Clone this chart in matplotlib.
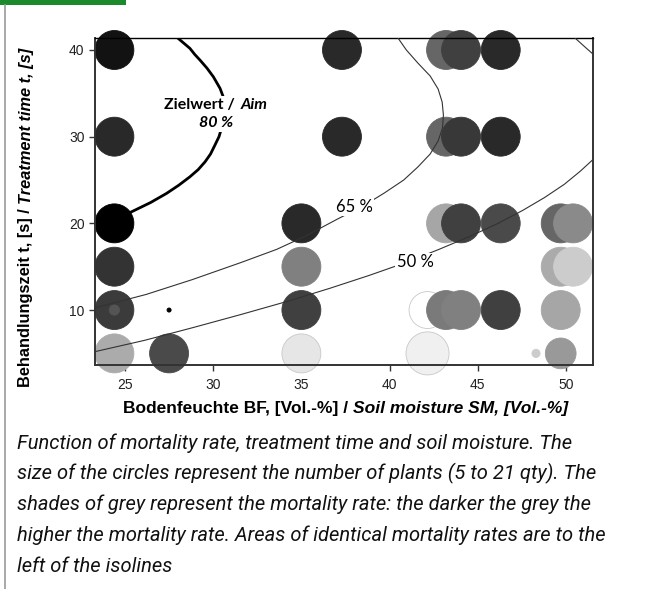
import matplotlib
matplotlib.use("Agg")
import matplotlib.pyplot as plt
from matplotlib.lines import Line2D
from matplotlib.patches import Rectangle
from matplotlib.offsetbox import TextArea, HPacker, VPacker, AnnotationBbox

# soil moisture [Vol.-%], treatment time [s], plants per test, mortality [%]
moisture = [24.4, 24.4, 24.4, 24.4, 24.4, 24.4, 24.4, 27.5, 27.5,
            35.0, 35.0, 35.0, 35.0, 37.3, 37.3, 42.15, 42.15,
            43.2, 43.2, 43.2, 43.2, 44.05, 44.05, 44.05, 44.05,
            46.3, 46.3, 46.3, 46.3, 48.3, 49.7, 49.7, 49.7, 49.7, 50.4, 50.4]
time_s = [40, 30, 20, 15, 10, 10, 5, 10, 5,
          20, 15, 10, 5, 40, 30, 10, 5,
          40, 30, 20, 10, 40, 30, 20, 10,
          40, 30, 20, 10, 5, 20, 15, 10, 5, 20, 15]
plants = [19, 19, 19, 19, 19, 5, 19, 2, 19,
          19, 19, 19, 19, 19, 19, 18, 21,
          19, 19, 19, 19, 19, 19, 19, 19,
          19, 19, 19, 19, 4, 19, 19, 19, 15, 19, 19]
mortality = [93, 84, 100, 80, 77, 67, 33, 100, 71,
             84, 50, 75, 10, 84, 84, 0, 6,
             60, 60, 35, 52, 75, 78, 75, 50,
             84, 84, 71, 75, 20, 60, 33, 35, 40, 46, 20]

# isolines: treatment time vs. soil moisture
iso80_t = [20.6, 21.34, 22.4, 23.46, 24.4, 25.37, 26.2, 27.1, 28.0, 29.03, 30.0,
           31.5, 33.0, 34.6, 35.57, 36.91, 37.9, 38.84, 39.5, 40.19, 41.4]
iso80_x = [24.6, 25.38, 26.45, 27.36, 28.05, 28.68, 29.15, 29.54, 29.85, 30.10, 30.33,
           30.55, 30.63, 30.57, 30.39, 30.01, 29.65, 29.25, 28.95, 28.68, 27.98]
iso65_t = [10.2, 11.8, 13.5, 15.5, 17.0, 18.5, 20.5, 22.0, 23.5, 25.0, 26.5,
           28.0, 29.5, 31.0, 32.5, 34.0, 35.5, 37.0, 38.5, 40.0, 41.4]
iso65_x = [23.2, 26.2, 28.8, 31.6, 33.6, 35.2, 37.05, 38.5, 39.7, 40.8, 41.6,
           42.3, 42.75, 43.0, 43.05, 42.98, 42.75, 42.3, 41.6, 40.95, 40.47]
iso50_t = [5.2, 6.5, 8.0, 9.5, 11.0, 12.5, 14.0, 15.5, 17.0, 18.5, 20.0,
           21.5, 23.0, 24.5, 26.0, 27.4]
iso50_x = [23.3, 26.1, 28.9, 31.6, 34.2, 36.6, 38.85, 40.95, 42.8, 44.55, 46.15,
           47.55, 48.8, 49.9, 50.8, 51.55]
iso50b_t = [39.4, 40.3, 41.4]
iso50b_x = [51.6, 51.1, 50.5]

caption = [
    "Function of mortality rate, treatment time and soil moisture. The",
    "size of the circles represent the number of plants (5 to 21 qty). The",
    "shades of grey represent the mortality rate: the darker the grey the",
    "higher the mortality rate. Areas of identical mortality rates are to the",
    "left of the isolines",
]

fig = plt.figure(figsize=(6.51, 5.89), dpi=100)
ax = fig.add_axes([0.1459, 0.3803, 0.765, 0.5547])

sizes = [(n * 2.05 * 0.72) ** 2 for n in plants]
faces = [str(round(1 - m / 100, 3)) for m in mortality]
edges = ["#c8c8c8" if m < 15 else str(round(1 - m / 100, 3)) for m in mortality]
ax.scatter(moisture, time_s, s=sizes, c=faces, edgecolors=edges, linewidths=0.6,
           zorder=2, clip_on=False)

ax.plot(iso80_x, iso80_t, color="black", lw=2.0, zorder=3, solid_joinstyle="round")
for xs, ts in [(iso65_x, iso65_t), (iso50_x, iso50_t), (iso50b_x, iso50b_t)]:
    ax.plot(xs, ts, color="#333333", lw=0.8, zorder=3, solid_joinstyle="round")

label_font = dict(family="Lato", fontsize=12)
ax.text(37.98, 21.9, "65 %", ha="center", va="center", zorder=4,
        bbox=dict(facecolor="white", edgecolor="none", pad=1), **label_font)
ax.text(41.44, 15.5, "50 %", ha="center", va="center", zorder=4,
        bbox=dict(facecolor="white", edgecolor="none", pad=1), **label_font)

bold = dict(family="Lato", fontsize=11.5, fontweight="bold")
bold_it = dict(family="Lato", fontsize=11.5, fontweight="bold", fontstyle="italic")
row1 = HPacker(children=[TextArea("Zielwert /", textprops=bold),
                         TextArea("Aim", textprops=bold_it)], sep=4, pad=0)
row2 = TextArea("80 %", textprops=bold_it)
box = VPacker(children=[row1, row2], align="center", sep=3, pad=0)
ab = AnnotationBbox(box, (30.16, 32.65), frameon=True, pad=0.15,
                    bboxprops=dict(facecolor="white", edgecolor="none"), zorder=4)
ax.add_artist(ab)

ax.set_xlim(23.3, 51.53)
ax.set_ylim(3.66, 41.35)
ax.set_xticks([25, 30, 35, 40, 45, 50])
ax.set_yticks([10, 20, 30, 40])
ax.tick_params(direction="out", length=4, width=1, color="#333333",
               labelsize=10, labelcolor="#222222")
ax.tick_params(axis="x", pad=5)
for lab in ax.get_xticklabels() + ax.get_yticklabels():
    lab.set_family("Liberation Sans")
for side in ["left", "bottom", "right"]:
    ax.spines[side].set_color("#333333")
    ax.spines[side].set_linewidth(1.4)
ax.spines["top"].set_color("black")
ax.spines["top"].set_linewidth(1.0)

xfont = dict(family="Liberation Sans", fontsize=12.5, fontweight="bold")
yfont = dict(family="Liberation Sans", fontsize=11.8, fontweight="bold")
xl = fig.text(123 / 651, 1 - 409 / 589, "Bodenfeuchte BF, [Vol.-%] / ",
              ha="left", va="center", **xfont)
ax.annotate("Soil moisture SM, [Vol.-%]", xy=(1, 0.5), xycoords=xl,
            ha="left", va="center", fontstyle="italic", **xfont)
yl = fig.text(26 / 651, 1 - 387 / 589, "Behandlungszeit t, [s] / ", rotation=90,
              ha="center", va="bottom", **yfont)
ax.annotate("Treatment time t, [s]", xy=(0.5, 1), xycoords=yl, rotation=90,
            ha="center", va="bottom", fontstyle="italic", **yfont)

for i, line in enumerate(caption):
    fig.text(17 / 651, 1 - (443 + 30.8 * i) / 589, line, ha="left", va="center",
             family="Roboto", fontstyle="italic", fontsize=14.5, color="#111111")

# page decoration: green header tab and left border line
fig.add_artist(Rectangle((0, 1 - 5 / 589), 126 / 651, 5 / 589, transform=fig.transFigure,
                         facecolor="#1b8a2d", edgecolor="none"))
fig.add_artist(Line2D([5 / 651, 5 / 651], [0, 1 - 5 / 589], transform=fig.transFigure,
                      color="#999999", lw=1.2))

fig.savefig("out.png", dpi=100)
